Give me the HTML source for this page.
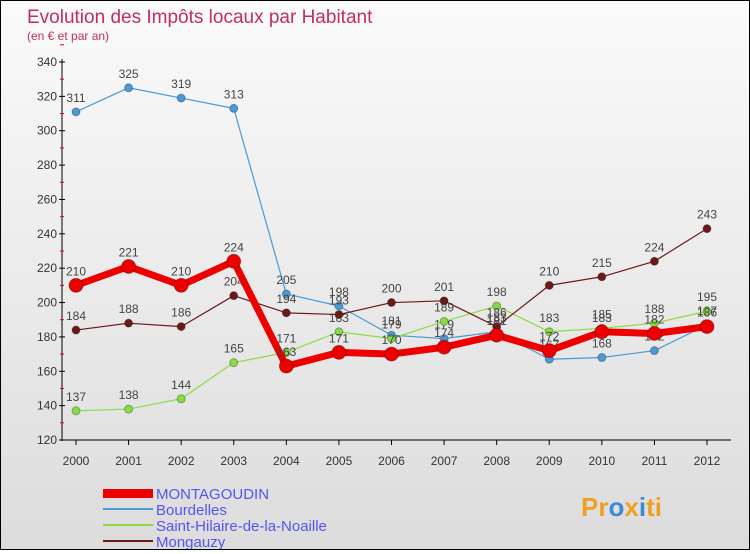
<!DOCTYPE html>
<html><head><meta charset="utf-8"><style>
html,body{margin:0;padding:0}
body{width:750px;height:550px;overflow:hidden;font-family:"Liberation Sans",sans-serif}
#c{position:absolute;left:0;top:0;width:748px;height:548px;border:1px solid #000;background:linear-gradient(#fafafa,#dcdcdc)}
</style></head><body>
<div id="c">
<svg id="s" width="748" height="548" xmlns="http://www.w3.org/2000/svg">
<text x="26" y="22" font-size="19" fill="#c0305a">Evolution des Impôts locaux par Habitant</text>
<text x="26" y="39" font-size="12" fill="#c0305a">(en € et par an)</text>
<g id="axes"></g><g id="series"></g>
<g>
<rect x="102" y="488" width="50" height="9" fill="#e00"/>
<text x="155" y="498" font-size="15" fill="#5555ee">MONTAGOUDIN</text>
<line x1="102" y1="508" x2="152" y2="508" stroke="#4a9ad6" stroke-width="2"/>
<text x="155" y="514" font-size="15" fill="#5555ee">Bourdelles</text>
<line x1="102" y1="524" x2="152" y2="524" stroke="#88dd44" stroke-width="2"/>
<text x="155" y="530" font-size="15" fill="#5555ee">Saint-Hilaire-de-la-Noaille</text>
<line x1="102" y1="540" x2="152" y2="540" stroke="#6b1a1a" stroke-width="2"/>
<text x="155" y="546" font-size="15" fill="#5555ee">Mongauzy</text>
</g>
<text x="580" y="515" font-size="26" font-weight="bold" fill="#f0a020">Pr<tspan fill="#3a8ad6">o</tspan>x<tspan fill="#3a8ad6">i</tspan>ti</text>
</svg></div>
<script>
const years=[2000,2001,2002,2003,2004,2005,2006,2007,2008,2009,2010,2011,2012];
const yTicks=[120,140,160,180,200,220,240,260,280,300,320,340];
const montagoudin=[210,221,210,224,163,171,170,174,181,172,183,182,186];
const bourdelles=[311,325,319,313,205,198,181,179,183,167,168,172,187];
const saintHilaire=[137,138,144,165,171,183,179,189,198,183,185,188,195];
const mongauzy=[184,188,186,204,194,193,200,201,186,210,215,224,243];
const NS="http://www.w3.org/2000/svg";
function xs(i){return 75+i*(706-75)/(years.length-1);}
function ys(v){return 439-(v-120)*(439-61)/220;}
function mk(t,a,p){const e=document.createElementNS(NS,t);for(const k in a)e.setAttribute(k,a[k]);p.appendChild(e);return e;}
const ax=document.getElementById('axes');
const yl=mk('line',{x1:61,y1:58,x2:61,y2:440,stroke:'#000'},ax);


const xl=mk('line',{x1:61,y1:439,x2:730,y2:439,stroke:'#000'},ax);


yTicks.forEach(v=>{
 mk('line',{x1:58,y1:ys(v),x2:64,y2:ys(v),stroke:'#000'},ax);
 mk('line',{x1:59,y1:ys(v+10),x2:63,y2:ys(v+10),stroke:'#e00'},ax);
 const t=mk('text',{x:56,y:ys(v)+4,'font-size':12,fill:'#333','text-anchor':'end'},ax);t.textContent=v;
 
 
});
years.forEach((y,i)=>{
 mk('line',{x1:xs(i),y1:439,x2:xs(i),y2:444,stroke:'#000'},ax);
 const t=mk('text',{x:xs(i),y:464,'font-size':12,fill:'#333','text-anchor':'middle'},ax);t.textContent=y;
 
 
});
const sg=document.getElementById('series');
function draw(data,color,w,r,name){
 const g=mk('g',{},sg);
 
 
 const pl=mk('polyline',{points:data.map((v,i)=>xs(i)+','+ys(v)).join(' '),fill:'none',stroke:color,'stroke-width':w,'stroke-linejoin':'round'},g);
 
 
 data.forEach((v,i)=>{
  const c=mk('circle',{cx:xs(i),cy:ys(v),r:r,fill:color,stroke:'rgba(0,0,0,0.3)','stroke-width':1},g);
  
  
  const t=mk('text',{x:xs(i),y:ys(v)-10,'font-size':12,fill:'#444','text-anchor':'middle'},g);t.textContent=v;
  
  
 });
}
draw(bourdelles,'#4a9ad6',1.2,4,'bourdelles');
draw(saintHilaire,'#88dd44',1.2,4,'saint-hilaire');
draw(mongauzy,'#6b1a1a',1.2,4,'mongauzy');
draw(montagoudin,'#ee0000',7,7,'montagoudin');
</script>
</body></html>
